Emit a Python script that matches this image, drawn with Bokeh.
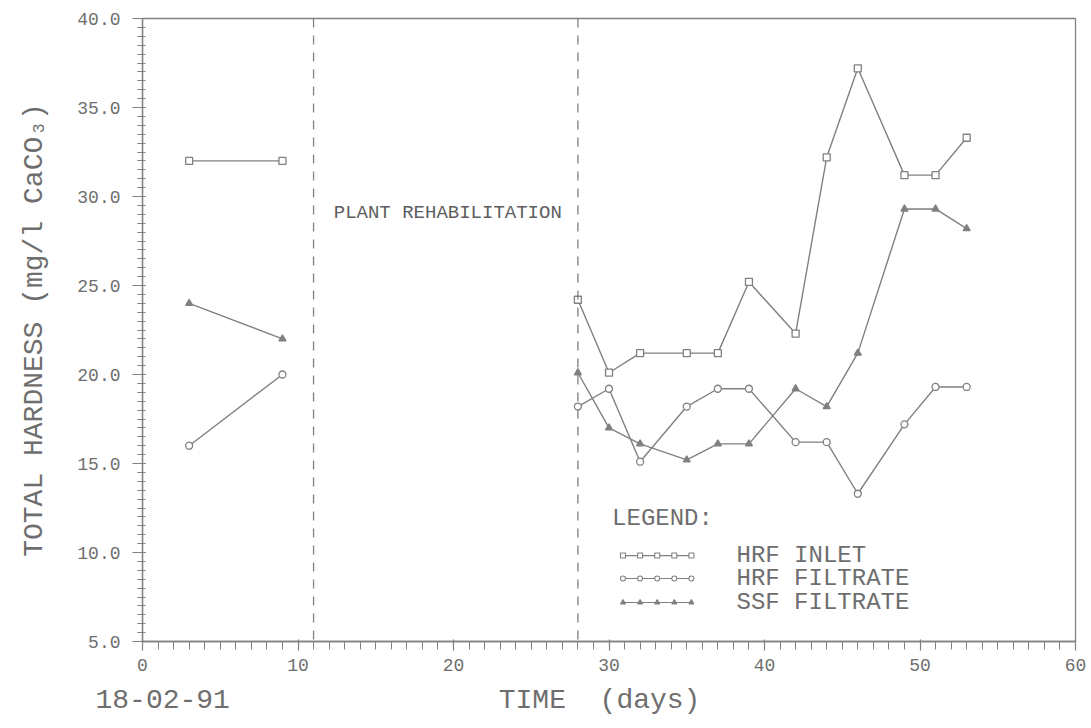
from bokeh.plotting import figure
from bokeh.models import (Range1d, FixedTicker, PrintfTickFormatter, Label, Span,
                          Title)
from bokeh.core.properties import value
from bokeh.embed import file_html
from bokeh.resources import INLINE

# Sampling days before and after the rehabilitation shutdown
days_before = [3, 9]
days_after = [28, 30, 32, 35, 37, 39, 42, 44, 46, 49, 51, 53]

# Total hardness, mg/l as CaCO3
hrf_inlet_before = [32, 32]
hrf_inlet_after = [24.2, 20.1, 21.2, 21.2, 21.2, 25.2, 22.3, 32.2, 37.2, 31.2, 31.2, 33.3]
hrf_filtrate_before = [16, 20]
hrf_filtrate_after = [18.2, 19.2, 15.1, 18.2, 19.2, 19.2, 16.2, 16.2, 13.3, 17.2, 19.3, 19.3]
ssf_filtrate_before = [24, 22]
ssf_filtrate_after = [20.1, 17.0, 16.1, 15.2, 16.1, 16.1, 19.2, 18.2, 21.2, 29.3, 29.3, 28.2]

series_names = ["HRF INLET", "HRF FILTRATE", "SSF FILTRATE"]
series_markers = ["square", "circle", "triangle"]

# Shutdown period boundaries (days)
shutdown_start = 11
shutdown_end = 28

x_ticks = [0, 10, 20, 30, 40, 50, 60]
y_ticks = [5, 10, 15, 20, 25, 30, 35, 40]

run_date = "18-02-91"
x_title = "TIME\u00a0\u00a0(days)"

INK = "#808080"
TEXT = "#6e6e6e"
MONO = "Liberation Mono"

p = figure(width=1091, height=728, output_backend="svg", toolbar_location=None,
           x_range=Range1d(0, 60), y_range=Range1d(5, 40),
           min_border_left=142, min_border_right=16, min_border_top=18,
           min_border_bottom=87)
p.background_fill_color = "white"
p.border_fill_color = "white"
p.outline_line_color = INK
p.outline_line_width = 1.3
p.grid.visible = False

# Axes
p.xaxis.ticker = FixedTicker(ticks=x_ticks, minor_ticks=list(range(0, 61)))
p.yaxis.ticker = FixedTicker(ticks=y_ticks,
                             minor_ticks=[5 + 0.5 * i for i in range(71)])
p.yaxis.formatter = PrintfTickFormatter(format="%.1f")
for ax in (p.xaxis, p.yaxis):
    ax.axis_line_color = INK
    ax.axis_line_width = 1.3
    ax.major_tick_line_color = INK
    ax.minor_tick_line_color = INK
    ax.major_tick_line_width = 1.2
    ax.minor_tick_line_width = 1.0
    ax.major_label_text_font = MONO
    ax.major_label_text_font_size = "18px"
    ax.major_label_text_color = TEXT
    ax.axis_label_text_font = MONO
    ax.axis_label_text_font_style = "normal"
    ax.axis_label_text_color = TEXT

p.xaxis.major_tick_out = 9
p.xaxis.major_tick_in = 2
p.xaxis.minor_tick_out = 8
p.xaxis.minor_tick_in = 0
p.xaxis.major_label_standoff = 8

p.yaxis.major_tick_out = 10
p.yaxis.major_tick_in = 3
p.yaxis.minor_tick_out = 5
p.yaxis.minor_tick_in = 3
p.yaxis.major_label_standoff = 12
p.yaxis.axis_label = "TOTAL HARDNESS (mg/l CaCO₃)"
p.yaxis.axis_label_text_font_size = "28px"
p.yaxis.axis_label_standoff = 24

# Bottom line: run date at the left, x title centred under the frame
# (monospaced, so the gap is a fixed run of spaces)
p.add_layout(Title(text=run_date + "\u00a0" * 16 + x_title, align="left",
                   offset=-47, standoff=19, text_font=MONO,
                   text_font_size="28px", text_font_style="normal",
                   text_color=TEXT), "below")

# Shutdown markers
for d in (shutdown_start, shutdown_end):
    p.add_layout(Span(location=d, dimension="height", line_color=INK,
                      line_width=1.3, line_dash="9 8"))

p.add_layout(Label(x=12.3, y=29.1, text="PLANT REHABILITATION",
                   text_font=MONO, text_font_size="19px", text_color="#5e5e5e",
                   text_baseline="middle"))

# Data series, drawn as two separate runs around the shutdown
before = [hrf_inlet_before, hrf_filtrate_before, ssf_filtrate_before]
after = [hrf_inlet_after, hrf_filtrate_after, ssf_filtrate_after]
for vals_b, vals_a, marker in zip(before, after, series_markers):
    filled = marker == "triangle"
    for xs, ys in ((days_before, vals_b), (days_after, vals_a)):
        p.line(xs, ys, line_color=INK, line_width=1.4)
        p.scatter(xs, ys, marker=marker, size=7, line_color=INK, line_width=1.3,
                  fill_color=INK if filled else "white")

# Legend block drawn inside the frame
legend_title_x, legend_title_y = 30.2, 11.9
legend_sample_x = [30.9, 32.0, 33.1, 34.2, 35.3]
legend_row_y = [9.83, 8.54, 7.19]
legend_text_x = 38.2

p.text(x=[legend_title_x], y=[legend_title_y], text=["LEGEND:"],
       text_font=value(MONO), text_font_size="24px", text_color=TEXT,
       text_baseline="middle")
for name, marker, ry in zip(series_names, series_markers, legend_row_y):
    filled = marker == "triangle"
    ys = [ry] * len(legend_sample_x)
    p.line(legend_sample_x, ys, line_color=INK, line_width=1.2)
    p.scatter(legend_sample_x, ys, marker=marker, size=5, line_color=INK,
              line_width=1.1, fill_color=INK if filled else "white")
    p.text(x=[legend_text_x], y=[ry], text=[name], text_font=value(MONO),
           text_font_size="24px", text_color=TEXT, text_baseline="middle")

open("out.html", "w").write(file_html(p, INLINE))
